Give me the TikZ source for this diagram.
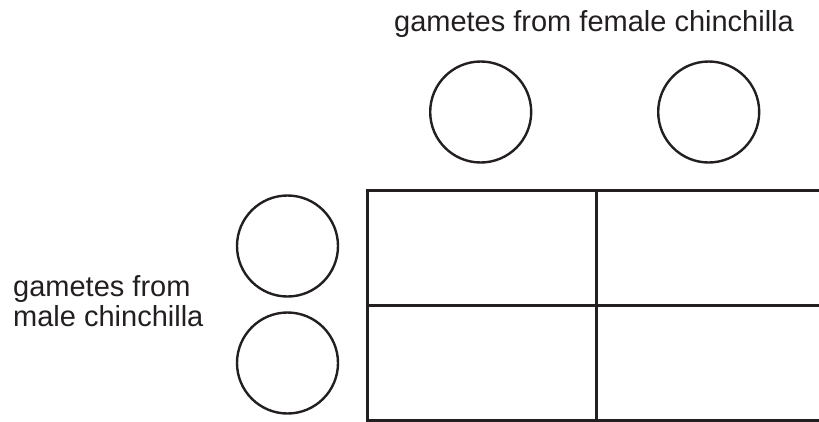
\documentclass[tikz,border=0pt]{standalone}
\usepackage{fontspec}
\setmainfont{Liberation Sans}
\usepackage{xcolor}
\definecolor{ink}{HTML}{231F20}
\tikzset{
  gamete/.style ={circle, draw=ink, line width=2.4pt, minimum size=101pt,
                  inner sep=0pt},
  cell/.style   ={rectangle, draw=ink, line width=2.7pt, anchor=north west,
                  minimum width=229pt, minimum height=115pt, inner sep=0pt},
  label/.style  ={font=\fontsize{29}{30}\selectfont, text=ink, inner sep=0pt},
}
\begin{document}
\begin{tikzpicture}[x=1pt,y=-1pt]
  \useasboundingbox (0,0) rectangle (819,421);
  % female gametes
  \node[label,anchor=base] (ftext) at (594,31) {gametes from female chinchilla};
  \node[gamete] (f1) at (480.7,112) {};
  \node[gamete] (f2) at (708.7,112) {};
  % male gametes
  \node[gamete] (m1) at (287.5,246) {};
  \node[gamete] (m2) at (287.5,363) {};
  \node[label,anchor=base west,align=left] (mtext) at (13,326.6)
    {gametes from\\male chinchilla};
  % punnett grid
  \node[cell] (c11) at (366,189) {};
  \node[cell] (c12) at (595,189) {};
  \node[cell] (c21) at (366,304) {};
  \node[cell] (c22) at (595,304) {};
\end{tikzpicture}
\end{document}
